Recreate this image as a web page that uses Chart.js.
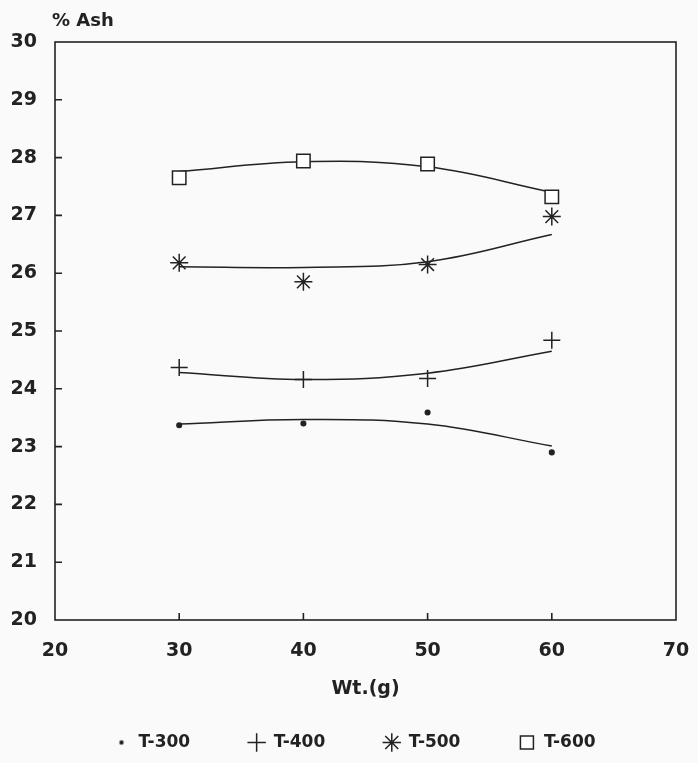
<!DOCTYPE html>
<html>
<head>
<meta charset="utf-8">
<script src="https://cdn.jsdelivr.net/npm/chart.js@4.4.0/dist/chart.umd.min.js"></script>
<style>
  html, body { margin: 0; padding: 0; background: #fbfafa; }
</style>
</head>
<body>
<canvas id="ashChart" width="698" height="763"></canvas>
<script>
// % Ash vs sample weight at four temperatures

const weights = [30, 40, 50, 60];
const xTicks = [20, 30, 40, 50, 60, 70];
const yTicks = [20, 21, 22, 23, 24, 25, 26, 27, 28, 29, 30];

// measured points
const ashT300 = [23.37, 23.40, 23.59, 22.90];
const ashT400 = [24.37, 24.16, 24.18, 24.84];
const ashT500 = [26.18, 25.85, 26.15, 26.98];
const ashT600 = [27.65, 27.94, 27.89, 27.32];

// fitted curves
const fitT300 = [23.39, 23.47, 23.39, 23.01];
const fitT400 = [24.28, 24.16, 24.27, 24.65];
const fitT500 = [26.11, 26.10, 26.20, 26.67];
const fitT600 = [27.76, 27.93, 27.84, 27.40];

const ink = '#222';
const toXY = (ys) => weights.map((x, i) => ({ x: x, y: ys[i] }));

// tiny dot for the T-300 legend entry
const dotIcon = document.createElement('canvas');
dotIcon.width = 14; dotIcon.height = 14;
(function () {
  const c = dotIcon.getContext('2d');
  c.fillStyle = ink;
  c.beginPath(); c.arc(7, 7, 2.2, 0, Math.PI * 2); c.fill();
})();

function pts(label, data, style, radius, fill) {
  return { label: label, data: toXY(data), showLine: false, pointStyle: style, pointRadius: radius, pointHoverRadius: radius,
    pointBackgroundColor: fill, pointBorderColor: ink, pointBorderWidth: 1.5, borderColor: ink, backgroundColor: fill };
}
function fit(data) {
  return { label: 'fit', data: toXY(data), showLine: true, tension: 0.4, pointRadius: 0, borderColor: ink, borderWidth: 1.5, fill: false };
}

const frame = {
  id: 'frame',
  beforeDraw(chart) {
    const c = chart.ctx;
    c.save(); c.fillStyle = '#fbfafa'; c.fillRect(0, 0, chart.width, chart.height); c.restore();
  },
  afterDraw(chart) {
    const c = chart.ctx, a = chart.chartArea, sx = chart.scales.x, sy = chart.scales.y;
    c.save();
    c.strokeStyle = ink; c.lineWidth = 1.6;
    c.strokeRect(a.left, a.top, a.right - a.left, a.bottom - a.top);
    c.beginPath();
    yTicks.slice(1, -1).forEach(v => { const y = sy.getPixelForValue(v); c.moveTo(a.left, y); c.lineTo(a.left + 7, y); });
    xTicks.slice(1, -1).forEach(v => { const x = sx.getPixelForValue(v); c.moveTo(x, a.bottom); c.lineTo(x, a.bottom - 7); });
    c.stroke();
    c.fillStyle = ink; c.font = 'bold 18px "DejaVu Sans"'; c.textBaseline = 'middle'; c.textAlign = 'left';
    c.fillText('% Ash', 52, 21);
    c.restore();
  }
};

new Chart(document.getElementById('ashChart').getContext('2d'), {
  type: 'scatter',
  data: {
    datasets: [
      pts('T-300', ashT300, 'circle', 2.3, ink),
      pts('T-400', ashT400, 'cross', 8.5, ink),
      pts('T-500', ashT500, 'star', 9, ink),
      pts('T-600', ashT600, 'rect', 9.5, '#fff'),
      fit(fitT300), fit(fitT400), fit(fitT500), fit(fitT600)
    ]
  },
  options: {
    responsive: false, animation: false,
    layout: { padding: { left: 0, top: 42, right: 22, bottom: 2 } },
    plugins: {
      tooltip: { enabled: false },
      legend: {
        position: 'bottom', fullSize: false, align: 'start',
        labels: {
          usePointStyle: true, boxHeight: 13, padding: 58, color: ink,
          font: { family: 'DejaVu Sans', size: 17, weight: 'bold' },
          filter: (item) => item.text !== 'fit',
          generateLabels(chart) {
            const items = Chart.defaults.plugins.legend.labels.generateLabels(chart);
            items.forEach(it => { if (it.text === 'T-300') it.pointStyle = dotIcon; });
            return items;
          }
        }
      }
    },
    scales: {
      x: {
        type: 'linear', min: 20, max: 70,
        afterBuildTicks: s => { s.ticks = xTicks.map(v => ({ value: v })); },
        afterFit: s => { s.height = 56; s.paddingRight = 0; s.paddingLeft = 0; },
        grid: { display: false }, border: { display: false },
        ticks: { color: ink, padding: 12, font: { family: 'DejaVu Sans', size: 19, weight: 'bold' } },
        title: { display: true, text: 'Wt.(g)', color: ink, padding: { top: 0, bottom: -24 }, font: { family: 'DejaVu Sans', size: 19, weight: 'bold' } }
      },
      y: {
        min: 20, max: 30,
        afterBuildTicks: s => { s.ticks = yTicks.map(v => ({ value: v })); },
        afterFit: s => { s.width = 55; },
        grid: { display: false }, border: { display: false },
        ticks: { color: ink, padding: 10, font: { family: 'DejaVu Sans', size: 19, weight: 'bold' } }
      }
    }
  },
  plugins: [frame]
});
</script>
</body>
</html>
